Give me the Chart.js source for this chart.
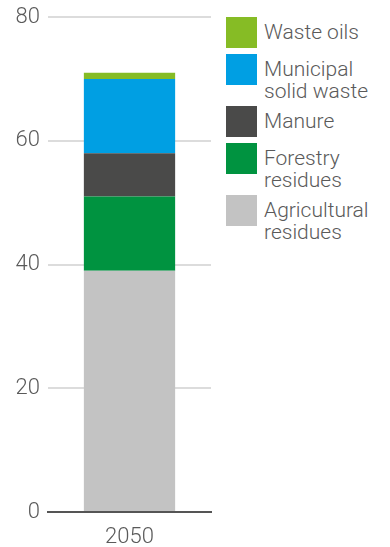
<!DOCTYPE html>
<html lang="en">
<head>
  <meta charset="UTF-8" />
  <title>Feedstock 2050</title>
  <script src="https://cdn.jsdelivr.net/npm/chart.js"></script>
  <style>
    body {
      margin: 0;
      background: #fff;
      font-family: Roboto, "Liberation Sans", Arial, sans-serif;
      color: #5a5a5a;
    }
    .wrap {
      position: relative;
      width: 390px;
      height: 547px;
    }
    .plot {
      position: absolute;
      left: 0;
      top: 0;
      width: 215px;
      height: 547px;
    }
    #legend {
      position: absolute;
      left: 226px;
      top: 17px;
      list-style: none;
      margin: 0;
      padding: 0;
    }
    #legend li {
      position: relative;
      padding-left: 38px;
      padding-top: 4px;
      font-size: 21px;
      font-weight: 300;
      line-height: 22px;
      min-height: 27px;
      white-space: pre-line;
    }
    #legend li span {
      position: absolute;
      left: 0;
      top: 0;
      width: 31px;
      height: 31px;
    }
  </style>
</head>
<body>
  <div class="wrap">
    <div class="plot"><canvas id="chart"></canvas></div>
    <ul id="legend"></ul>
  </div>

  <script>
    const categories = ["2050"];
    const seriesNames = ["Agricultural residues", "Forestry residues", "Manure", "Municipal solid waste", "Waste oils"];
    const legendLines = [["Agricultural", "residues"], ["Forestry", "residues"], ["Manure"], ["Municipal", "solid waste"], ["Waste oils"]];
    const agricultural = [39];
    const forestry = [12];
    const manure = [7];
    const municipal = [12];
    const wasteOils = [1];
    const yTicks = [0, 20, 40, 60, 80];
    const colors = ["#c3c3c3", "#009340", "#4a4a49", "#009fe3", "#86bc25"];

    const values = [agricultural, forestry, manure, municipal, wasteOils];
    const tickFont = { family: "Roboto", size: 22, weight: 300 };

    const chart = new Chart(document.getElementById("chart"), {
      type: "bar",
      data: {
        labels: categories,
        datasets: seriesNames.map((name, i) => ({
          label: name,
          data: values[i],
          backgroundColor: colors[i],
          borderWidth: 0,
          barPercentage: 0.56,
          categoryPercentage: 1
        }))
      },
      options: {
        responsive: true,
        maintainAspectRatio: false,
        animation: false,
        layout: { padding: { top: 0, right: 4, left: 0, bottom: 0 } },
        plugins: {
          legend: { display: false },
          tooltip: { enabled: false }
        },
        scales: {
          x: {
            stacked: true,
            afterFit: s => { s.height = 35; },
            grid: { display: false, drawTicks: false },
            border: { color: "#555", width: 2 },
            ticks: {
              color: "#5a5a5a",
              padding: 12,
              font: tickFont
            }
          },
          y: {
            stacked: true,
            min: 0,
            max: 80,
            afterBuildTicks: s => { s.ticks = yTicks.map(v => ({ value: v })); },
            afterFit: s => { s.width = 48; s.paddingTop = 17; },
            grid: { color: "#dcdcdc", lineWidth: 2, drawTicks: false },
            border: { display: false },
            ticks: {
              color: "#5a5a5a",
              padding: 8,
              font: tickFont
            }
          }
        }
      }
    });

    const legend = document.getElementById("legend");
    for (let i = seriesNames.length - 1; i >= 0; i--) {
      const li = document.createElement("li");
      const box = document.createElement("span");
      box.style.background = colors[i];
      li.appendChild(box);
      li.appendChild(document.createTextNode(legendLines[i].join("\n")));
      li.style.marginBottom = legendLines[i].length > 1 ? "4px" : "6px";
      legend.appendChild(li);
    }
  </script>
</body>
</html>
